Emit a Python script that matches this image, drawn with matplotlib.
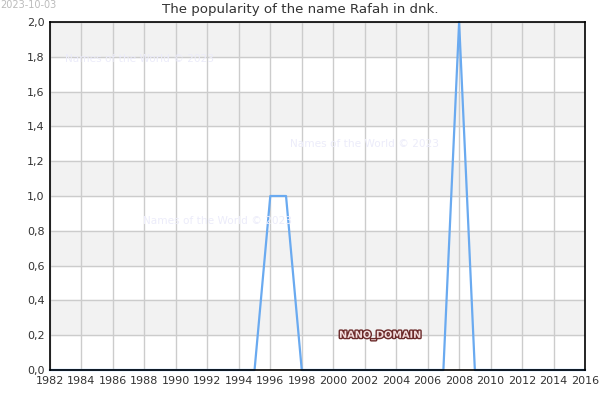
import matplotlib
matplotlib.use("Agg")
from matplotlib import pyplot as plt
from matplotlib import patheffects

# data
years = list(range(1982, 2017))
counts = [0] * len(years)
counts[years.index(1996)] = 1
counts[years.index(1997)] = 1
counts[years.index(2008)] = 2

title = "The popularity of the name Rafah in dnk."
y_ticks = [0.0, 0.2, 0.4, 0.6, 0.8, 1.0, 1.2, 1.4, 1.6, 1.8, 2.0]
x_ticks = list(range(1982, 2017, 2))

fig = plt.figure(figsize=(6, 4), dpi=100)
ax = fig.add_axes([50 / 600, 30 / 400, 535 / 600, 348 / 400])

# alternating bands
for i in range(1, len(y_ticks) - 1, 2):
    ax.axhspan(y_ticks[i], y_ticks[i + 1], color="#f2f2f2", zorder=0)

ax.plot(years, counts, color="#6aaaf0", lw=1.6, zorder=2.4, clip_on=False)

ax.set_xlim(1982, 2016)
ax.set_ylim(0, 2)
ax.set_xticks(x_ticks)
ax.set_yticks(y_ticks)
ax.set_yticklabels([f"{v:.1f}".replace(".", ",") for v in y_ticks])
ax.grid(True, color="#cccccc", lw=1, zorder=1)
ax.set_axisbelow(True)
ax.tick_params(length=0, labelsize=8, colors="#333333", pad=4)
for s in ax.spines.values():
    s.set_color("black")
    s.set_linewidth(1.2)
    s.set_zorder(2.5)

fig.text(0.5, 1 - 10 / 400, title, ha="center", va="center",
         fontsize=9.6, color="#333333")
fig.text(0.0, 1 - 4.5 / 400, "2023-10-03", ha="left", va="center",
         fontsize=7, color="#bbbbbb")

# watermarks
for px, py in [(65, 59), (290, 144), (143, 221)]:
    fig.text(px / 600, 1 - py / 400, "Names of the World \u00a9 2023",
             ha="left", va="center", fontsize=7.6, color="#ececfa", zorder=2)

t = fig.text(380 / 600, 1 - 335 / 400, "NANO_DOMAIN", ha="center",
             va="center", fontsize=7, color="#f3dede", weight="bold")
t.set_path_effects([patheffects.withStroke(linewidth=2, foreground="#6b2a2a")])

fig.savefig("out.png", dpi=100)
